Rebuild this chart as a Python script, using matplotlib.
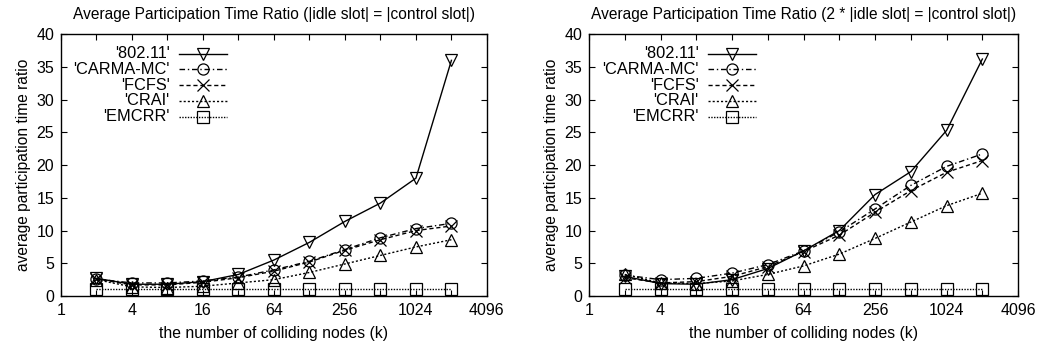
import numpy as np
import matplotlib
matplotlib.use("Agg")
import matplotlib.pyplot as plt
from matplotlib.ticker import FixedLocator, NullFormatter

plt.rcParams["font.family"] = ["Liberation Sans", "DejaVu Sans"]

nodes = [2, 4, 8, 16, 32, 64, 128, 256, 512, 1024, 2048]
labels = ["'802.11'", "'CARMA-MC'", "'FCFS'", "'CRAI'", "'EMCRR'"]

# |idle slot| = |control slot|
left_80211 = [2.7, 1.8, 1.8, 2.2, 3.3, 5.5, 8.2, 11.4, 14.2, 18.0, 36.0]
left_carma = [2.6, 2.0, 2.0, 2.3, 2.9, 4.0, 5.3, 7.1, 8.9, 10.3, 11.1]
left_fcfs = [2.6, 1.7, 1.7, 2.1, 2.8, 3.8, 5.2, 7.0, 8.6, 10.0, 10.7]
left_crai = [2.5, 1.4, 1.3, 1.5, 2.0, 2.5, 3.6, 4.9, 6.2, 7.5, 8.6]
left_emcrr = [1.0, 1.0, 1.0, 1.0, 1.0, 1.0, 1.0, 1.0, 1.0, 1.0, 1.0]

# 2 * |idle slot| = |control slot|
right_80211 = [3.0, 1.9, 1.8, 2.5, 4.2, 6.9, 10.0, 15.5, 19.0, 25.3, 36.2]
right_carma = [3.2, 2.5, 2.7, 3.5, 4.8, 6.9, 9.8, 13.3, 16.9, 19.8, 21.7]
right_fcfs = [2.8, 2.0, 2.2, 3.0, 4.5, 6.8, 9.3, 12.8, 16.1, 18.9, 20.7]
right_crai = [3.3, 2.0, 1.9, 2.3, 3.3, 4.6, 6.4, 8.8, 11.3, 13.8, 15.7]
right_emcrr = [1.0, 1.0, 1.0, 1.0, 1.0, 1.0, 1.0, 1.0, 1.0, 1.0, 1.0]

xticks = [1, 4, 16, 64, 256, 1024, 4096]
yticks = [0, 5, 10, 15, 20, 25, 30, 35, 40]

# gnuplot-ish monochrome line styles
styles = [
    dict(ls="-", marker="v"),
    dict(ls=(0, (4, 2, 1, 2)), marker="o"),
    dict(ls=(0, (3, 2)), marker="x"),
    dict(ls=(0, (1.5, 1.5)), marker="^"),
    dict(ls=(0, (1, 1)), marker="s"),
]


def draw(ax, series, title):
    for ys, st in zip(series, styles):
        ax.plot(nodes, ys, color="black", lw=1.0, ls=st["ls"], marker=st["marker"],
                ms=8, mfc="none", mec="black", mew=0.9)
    ax.set_xscale("log", base=2)
    ax.set_xlim(1, 4096)
    ax.set_ylim(0, 40)
    ax.xaxis.set_major_locator(FixedLocator(xticks))
    ax.set_xticklabels([str(t) for t in xticks])
    ax.xaxis.set_minor_locator(FixedLocator([2, 8, 32, 128, 512, 2048]))
    ax.xaxis.set_minor_formatter(NullFormatter())
    ax.set_yticks(yticks)
    ax.tick_params(which="both", direction="in", top=True, right=True, labelsize=11.5,
                   width=0.8, length=4, pad=5)
    ax.tick_params(which="minor", length=4)
    for sp in ax.spines.values():
        sp.set_linewidth(1.0)
    ax.set_xlabel("the number of colliding nodes (k)", fontsize=11.3, labelpad=6)
    ax.set_ylabel("average participation time ratio", fontsize=11.2, labelpad=4)
    ax.set_title(title, fontsize=11.2, pad=11)

    # legend drawn gnuplot style: right-aligned labels, sample line on the right
    row_y = [0.926, 0.865, 0.804, 0.745, 0.684]
    for lab, st, yy in zip(labels, styles, row_y):
        ax.text(0.255, yy, lab, transform=ax.transAxes, ha="right", va="center", fontsize=11.8)
        ax.plot([0.278, 0.333, 0.389], [yy, yy, yy], transform=ax.transAxes,
                color="black", lw=1.0, ls=st["ls"], marker=st["marker"], markevery=[1],
                ms=8, mfc="none", mec="black", mew=0.9, clip_on=False)


fig = plt.figure(figsize=(10.44, 3.52), dpi=100)
ax1 = fig.add_axes([0.0584, 0.159, 0.408, 0.744])
ax2 = fig.add_axes([0.5642, 0.159, 0.411, 0.744])

draw(ax1, [left_80211, left_carma, left_fcfs, left_crai, left_emcrr],
     "Average Participation Time Ratio (|idle slot| = |control slot|)")
draw(ax2, [right_80211, right_carma, right_fcfs, right_crai, right_emcrr],
     "Average Participation Time Ratio (2 * |idle slot| = |control slot|)")

fig.savefig("out.png", dpi=100)
